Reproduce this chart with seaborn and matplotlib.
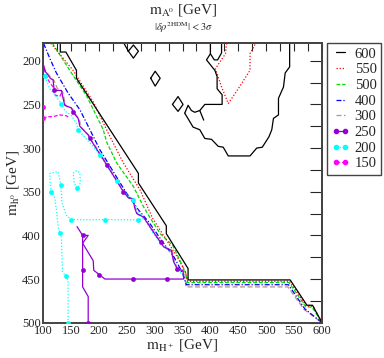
import pandas as pd
import matplotlib
matplotlib.use("Agg")
import matplotlib.pyplot as plt
from matplotlib.lines import Line2D
from matplotlib.ticker import MultipleLocator
import seaborn as sns

sns.set_style("white")
plt.rcParams['font.family'] = ['Liberation Serif', 'DejaVu Serif']
plt.rcParams['mathtext.fontset'] = 'stix'

# contour paths (m_H+, m_h0)
c600_main = [(131, 180), (131, 190), (141, 190), (160, 211), (160, 220), (271, 329), (271, 340),
             (321, 389), (321, 398), (360, 438), (360, 451), (543, 451), (573, 480), (583, 480), (600, 500)]
c600_isl1 = [(245, 180), (253, 189), (262, 182), (271, 189), (262, 197), (253, 189)]
c600_isl2 = [(293, 220), (301, 212), (310, 220), (301, 229), (293, 220)]
c600_isl3 = [(332, 250), (342, 241), (351, 250), (342, 258), (332, 250)]
c600_big_a = [(354, 260), (360, 251), (366, 257), (372, 259), (381, 257), (390, 250), (421, 250), (421, 239),
              (412, 232), (412, 218), (408, 211), (393, 199), (400, 192), (400, 180)]
c600_big_b = [(381, 257), (388, 268)]
c600_big_c = [(400, 192), (407, 199), (413, 199), (420, 191), (420, 180)]
c600_big_d = [(354, 260), (369, 276), (381, 279), (390, 289), (402, 290), (414, 298), (423, 299), (432, 309),
              (471, 309), (483, 300), (493, 299), (505, 287), (510, 279), (513, 266), (522, 262), (522, 243),
              (531, 230), (534, 214), (542, 207), (542, 180)]

c550_main = [(114, 180), (154, 211), (190, 247), (217, 283), (244, 317), (274, 348), (296, 380), (316, 400),
             (340, 424), (356, 443), (359, 452.5), (542, 452.5), (572, 481), (584, 481), (600, 500)]
c550_isl = [(429, 180), (427, 192), (409, 209), (420, 230), (432, 249), (452, 230), (471, 211), (471, 192), (481, 180)]

c500_main = [(117, 180), (151, 214), (178, 240), (208, 279), (214, 293), (232, 317), (262, 344), (280, 367),
             (292, 380), (310, 398), (333, 412), (350, 435), (357, 445), (358, 454), (541, 454), (571, 482),
             (582, 482), (600, 500)]

c400_main = [(101, 180), (112, 197), (124, 214), (145, 237), (166, 256), (181, 275), (202, 302), (225, 326),
             (248, 350), (270, 370), (290, 385), (315, 408), (335, 425), (350, 443), (357, 456.5), (540, 456.5),
             (569, 484), (600, 500)]

c300_main = [(100, 207), (106, 213), (120, 223), (126, 232), (135, 235), (138, 244), (141, 252), (153, 255),
             (156, 259), (165, 267), (168, 276), (183, 286), (186, 290), (216, 320), (246, 351), (255, 358),
             (264, 359), (266, 369), (270, 376), (282, 380), (306, 403), (318, 414), (332, 418), (336, 431),
             (343, 440), (354, 442), (356, 459), (539, 459), (568, 485), (600, 500)]

c250_main = [(100, 203), (104, 212), (113, 220), (118, 222), (120, 233), (124, 234), (133, 234), (136, 243),
             (139, 251), (151, 254), (154, 259), (163, 266), (166, 275), (181, 285), (184, 289), (214, 319),
             (244, 350), (253, 357), (262, 358), (264, 368), (268, 375), (280, 379), (304, 402), (311, 408),
             (316, 413), (330, 417), (334, 430), (341, 439), (351, 440), (352, 450), (211, 450), (201, 445),
             (191, 440), (190, 429), (171, 409), (181, 400), (171, 400), (161, 390)]
c250_leg = [(171, 400), (171, 459), (181, 470), (181, 500)]
c250_marks = [(120, 234), (154, 259), (184, 289), (214, 319), (244, 350), (311, 408), (341, 439),
              (322, 450), (262, 450), (200, 445), (171, 400), (171, 440), (181, 500)]

c200_main = [(100, 212), (104, 218), (112, 232), (120, 238), (128, 245), (133, 249), (140, 258), (150, 262),
             (160, 272), (163, 279), (178, 290), (190, 298), (202, 308), (232, 338), (245, 350), (262, 360),
             (268, 370), (280, 380), (300, 400), (315, 412), (330, 420), (336, 432), (345, 442), (353, 446)]
c200_low = [(280, 380), (271, 382), (151, 382), (142, 377), (134, 363), (132, 342), (127, 327), (112, 329),
            (113, 340), (115, 350), (121, 357), (123, 367), (125, 375), (127, 390), (130, 397), (133, 403),
            (135, 442), (142, 447), (145, 451), (145, 500)]
c200_loop = [(154, 329), (160, 326), (166, 328), (167, 340), (161, 346), (156, 340), (154, 329)]
c200_marks = [(104, 218), (133, 249), (163, 279), (202, 308), (232, 338), (262, 360), (151, 382), (211, 382),
              (271, 382), (132, 342), (115, 350), (161, 346), (130, 397), (142, 447), (145, 500)]

c150_top = [(100, 203), (105, 216), (111, 224), (118, 230), (121, 239), (130, 241), (134, 236)]
c150_low = [(100, 266), (109, 264), (118, 264), (130, 262), (142, 263), (148, 266)]
c150_marks = [(100, 253), (100, 266)]

levels = ['600', '550', '500', '400', '300', '250', '200', '150']
styles = {
    '600': dict(color='black', ls='-'),
    '550': dict(color='#ff0000', ls=(0, (1, 1.5))),
    '500': dict(color='#00dd00', ls=(0, (3, 1.5))),
    '400': dict(color='#0000ff', ls=(0, (4, 1.5, 1, 1.5))),
    '300': dict(color='#bc8f8f', ls=(0, (4, 2))),
    '250': dict(color='#9400d3', ls='-'),
    '200': dict(color='#00ffff', ls=(0, (1, 1.5))),
    '150': dict(color='#ff00ff', ls=(0, (3, 1.5))),
}
paths = {
    '600': [c600_main, c600_isl1, c600_isl2, c600_isl3, c600_big_a, c600_big_b, c600_big_c, c600_big_d],
    '550': [c550_main, c550_isl],
    '500': [c500_main],
    '400': [c400_main],
    '300': [c300_main],
    '250': [c250_main, c250_leg],
    '200': [c200_main, c200_low, c200_loop],
    '150': [c150_top, c150_low],
}
marks = {'250': c250_marks, '200': c200_marks, '150': c150_marks}

fig = plt.figure(figsize=(3.84, 3.58), dpi=100)
ax = fig.add_axes([43 / 384, 35.3 / 358, 279 / 384, 279.4 / 358])

lw = 0.9
for lev in ['300', '400', '500', '550', '150', '200', '250', '600']:
    st = styles[lev]
    for p in paths[lev]:
        df = pd.DataFrame(p, columns=['x', 'y'])
        sns.lineplot(data=df, x='x', y='y', sort=False, estimator=None, ax=ax,
                     color=st['color'], linestyle=st['ls'], lw=lw)
    if lev in marks:
        dm = pd.DataFrame(marks[lev], columns=['x', 'y'])
        sns.scatterplot(data=dm, x='x', y='y', ax=ax, color=st['color'], s=10,
                        edgecolor=st['color'], linewidth=0.3, zorder=5)

ax.set_xlim(100, 600)
ax.set_ylim(500, 180)
ax.xaxis.set_major_locator(MultipleLocator(50))
ax.xaxis.set_minor_locator(MultipleLocator(25))
ax.yaxis.set_major_locator(MultipleLocator(50))
ax.yaxis.set_minor_locator(MultipleLocator(25))
ax.tick_params(which='major', direction='in', length=8.5, width=0.8, labelsize=9, pad=1.5,
               top=False, right=False)
ax.tick_params(which='minor', direction='in', length=4.7, width=0.8, top=False, right=False)
ax.set_yticks([200, 250, 300, 350, 400, 450, 500])

top = ax.secondary_xaxis('top')
top.xaxis.set_major_locator(MultipleLocator(25))
top.tick_params(direction='in', length=6, width=0.8, labeltop=False)
right = ax.secondary_yaxis('right')
right.yaxis.set_major_locator(MultipleLocator(25))
right.tick_params(direction='in', length=8.5, width=0.8, labelright=False)
for a in (ax, top, right):
    for s in a.spines.values():
        s.set_color('#444444')
        s.set_linewidth(1.4)

ax.set_xlabel(r'$\mathrm{m}_{\mathrm{H}^+}$ [GeV]', fontsize=11, labelpad=0)
ax.set_ylabel(r'$\mathrm{m}_{\mathrm{h}^0}$ [GeV]', fontsize=11, labelpad=1)
fig.text(183 / 384, 1 - 10 / 358, r'$\mathrm{m}_{\mathrm{A}^0}$ [GeV]', fontsize=11, ha='center', va='center')
fig.text(183 / 384, 1 - 28 / 358, r'$|\delta\rho^{\mathrm{2HDM}}| < 3\sigma$', fontsize=7.5, ha='center', va='center')

handles = []
for lev in levels:
    st = styles[lev]
    handles.append(Line2D([], [], color=st['color'], ls=st['ls'], lw=lw,
                          marker='o' if lev in marks else None, ms=3))
leg = fig.legend(handles, levels, loc='upper left', bbox_to_anchor=(327 / 384, 1 - 43 / 358),
                 bbox_transform=fig.transFigure, borderaxespad=0, fancybox=False, framealpha=1,
                 edgecolor='#444444', fontsize=10.5, handlelength=1.25, handletextpad=0.35,
                 labelspacing=0.17, borderpad=0.3, numpoints=2)
leg.get_frame().set_linewidth(1.0)

fig.savefig('out.png', dpi=100)
